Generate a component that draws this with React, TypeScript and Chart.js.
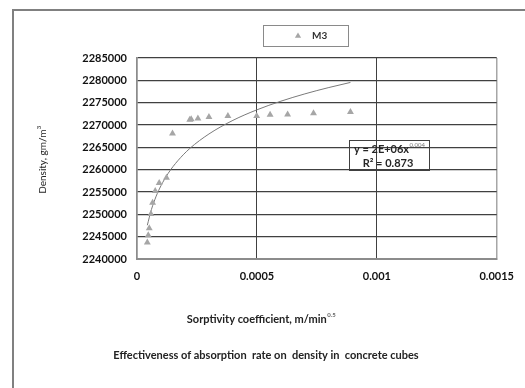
import { useEffect, useRef } from 'react';
import { Chart, registerables } from 'chart.js';

Chart.register(...registerables);

const seriesLabel = 'M3';
const sorptivity = [0.000043, 0.000047, 0.000051, 0.000058, 0.000065, 0.000076, 0.0000925, 0.000123, 0.000148, 0.00022, 0.000226, 0.000254, 0.0003, 0.000379, 0.000499, 0.000555, 0.000628, 0.000736, 0.00089];
const density = [2243700, 2245300, 2246900, 2250100, 2252600, 2255200, 2257000, 2258200, 2268100, 2271200, 2271300, 2271450, 2271800, 2272000, 2272000, 2272300, 2272350, 2272650, 2272900];
const trendX = [0.000043, 0.00006, 0.00008, 0.0001, 0.00013, 0.00017, 0.00022, 0.0003, 0.0004, 0.0005, 0.0006, 0.0007, 0.0008, 0.00089];
const trendY = [2247560, 2251050, 2254070, 2256410, 2259180, 2261990, 2264740, 2267990, 2271040, 2273400, 2275330, 2276970, 2278390, 2279530];
const yMin = 2240000;
const yMax = 2285000;
const yStep = 5000;
const xMin = 0;
const xMax = 0.0015;
const xStep = 0.0005;
const yTitle = 'Density, gm/m';
const yTitleSup = '3';
const xTitle = 'Sorptivity coefficient, m/min';
const xTitleSup = '0.5';
const caption = 'Effectiveness of absorption  rate on  density in  concrete cubes';
const eqMain = 'y = 2E+06x';
const eqSup = '0.004';
const eqR2 = 'R² = 0.873';

const FONT = 'Lato, "Open Sans", sans-serif';

const decorPlugin = {
  id: 'decor',
  afterDraw(chart: any) {
    const ctx = chart.ctx as CanvasRenderingContext2D;
    ctx.save();
    // outer frame
    ctx.strokeStyle = '#808080';
    ctx.lineWidth = 2;
    ctx.beginPath();
    ctx.moveTo(13, 400);
    ctx.lineTo(13, 10);
    ctx.lineTo(540, 10);
    ctx.stroke();

    // legend box
    ctx.lineWidth = 1;
    ctx.strokeStyle = '#8a8a8a';
    ctx.strokeRect(263.5, 25.5, 85, 21);
    ctx.fillStyle = '#a6a6a6';
    const tx = 298, ty = 36, r = 3.6;
    ctx.beginPath();
    ctx.moveTo(tx, ty - r);
    ctx.lineTo(tx + r * 0.866, ty + r * 0.5);
    ctx.lineTo(tx - r * 0.866, ty + r * 0.5);
    ctx.closePath();
    ctx.fill();
    ctx.fillStyle = '#333333';
    ctx.font = `bold 10px ${FONT}`;
    ctx.textAlign = 'left';
    ctx.textBaseline = 'middle';
    ctx.fillText(seriesLabel, 312, 36);

    // y title
    ctx.save();
    ctx.translate(43, 160);
    ctx.rotate(-Math.PI / 2);
    ctx.font = `10px ${FONT}`;
    ctx.fillStyle = '#222222';
    const wy = ctx.measureText(yTitle).width;
    ctx.font = `6px ${FONT}`;
    const wys = ctx.measureText(yTitleSup).width;
    const startY = -(wy + wys) / 2;
    ctx.font = `10px ${FONT}`;
    ctx.textAlign = 'left';
    ctx.fillText(yTitle, startY, 0);
    ctx.font = `6px ${FONT}`;
    ctx.fillText(yTitleSup, startY + wy + 0.5, -4);
    ctx.restore();

    // x title
    ctx.font = `bold 11px ${FONT}`;
    ctx.fillStyle = '#222222';
    const wx = ctx.measureText(xTitle).width;
    ctx.font = `bold 6px ${FONT}`;
    const wxs = ctx.measureText(xTitleSup).width;
    const sx = 261 - (wx + wxs) / 2;
    ctx.font = `bold 11px ${FONT}`;
    ctx.textAlign = 'left';
    ctx.fillText(xTitle, sx, 319);
    ctx.font = `bold 6px ${FONT}`;
    ctx.fillStyle = '#666666';
    ctx.fillText(xTitleSup, sx + wx + 0.5, 315);

    // caption
    ctx.font = `bold 11px ${FONT}`;
    ctx.fillStyle = '#222222';
    ctx.textAlign = 'center';
    ctx.fillText(caption, 266, 355);

    // equation box
    ctx.strokeStyle = '#404040';
    ctx.lineWidth = 1;
    ctx.strokeRect(349.5, 140.5, 80, 30);
    ctx.font = `bold 11px ${FONT}`;
    ctx.fillStyle = '#262626';
    ctx.textAlign = 'left';
    ctx.fillText(eqMain, 354, 149);
    const we = ctx.measureText(eqMain).width;
    ctx.font = `6px ${FONT}`;
    ctx.fillStyle = '#777777';
    ctx.fillText(eqSup, 354 + we + 0.5, 145);
    ctx.font = `bold 11px ${FONT}`;
    ctx.fillStyle = '#262626';
    ctx.textAlign = 'center';
    ctx.fillText(eqR2, 388, 163);
    ctx.restore();
  },
};

export default function App() {
  const ref = useRef<HTMLCanvasElement | null>(null);
  useEffect(() => {
    if (!ref.current) return;
    const points = sorptivity.map((x, i) => ({ x, y: density[i] }));
    const trend = trendX.map((x, i) => ({ x, y: trendY[i] }));
    const chart = new Chart(ref.current, {
      type: 'scatter',
      data: {
        datasets: [
          {
            label: seriesLabel,
            data: points,
            pointStyle: 'triangle',
            pointRadius: 4,
            backgroundColor: '#a6a6a6',
            borderColor: '#a6a6a6',
            borderWidth: 0,
            order: 1,
          },
          {
            label: 'trend',
            data: trend,
            showLine: true,
            pointRadius: 0,
            borderColor: '#7a7a7a',
            borderWidth: 1,
            tension: 0.4,
            cubicInterpolationMode: 'monotone',
            order: 2,
          },
        ],
      },
      options: {
        animation: false,
        responsive: false,
        devicePixelRatio: 1,
        layout: { padding: { left: 0, top: 58, right: 27, bottom: 0 } },
        plugins: { legend: { display: false }, title: { display: false }, tooltip: { enabled: false } },
        scales: {
          x: {
            type: 'linear',
            min: xMin,
            max: xMax,
            ticks: {
              stepSize: xStep,
              padding: 11,
              color: '#111111',
              font: { family: FONT, size: 11, weight: 'bold' },
              callback: (v: any) => String(Number(Number(v).toPrecision(6))),
            },
            grid: {
              drawTicks: false,
              color: (c: any) => (c.tick && (c.tick.value === xMin) ? '#8c8c8c' : c.tick && Math.abs(c.tick.value - xMax) < 1e-9 ? '#a6a6a6' : '#404040'),
              lineWidth: (c: any) => (c.tick && (c.tick.value === xMin || Math.abs(c.tick.value - xMax) < 1e-9) ? 1.5 : 1),
            },
            border: { display: true, color: '#8c8c8c', width: 2 },
            afterFit: (s: any) => { s.height = 129; },
          },
          y: {
            type: 'linear',
            min: yMin,
            max: yMax,
            ticks: {
              stepSize: yStep,
              padding: 10,
              color: '#111111',
              font: { family: FONT, size: 11, weight: 'bold' },
              callback: (v: any) => String(v),
            },
            grid: {
              drawTicks: false,
              color: (c: any) => (c.tick && c.tick.value === yMin ? '#8c8c8c' : '#404040'),
              lineWidth: (c: any) => (c.tick && c.tick.value === yMin ? 2 : 1.3),
            },
            border: { display: true, color: '#8c8c8c', width: 1.5 },
            afterFit: (s: any) => { s.width = 137; },
          },
        },
      },
      plugins: [decorPlugin],
    });
    return () => chart.destroy();
  }, []);
  return (
    <div style={{ position: 'absolute', left: 0, top: 0, width: 525, height: 388, background: '#fff' }}>
      <canvas ref={ref} width={525} height={388} style={{ display: 'block' }} />
    </div>
  );
}
